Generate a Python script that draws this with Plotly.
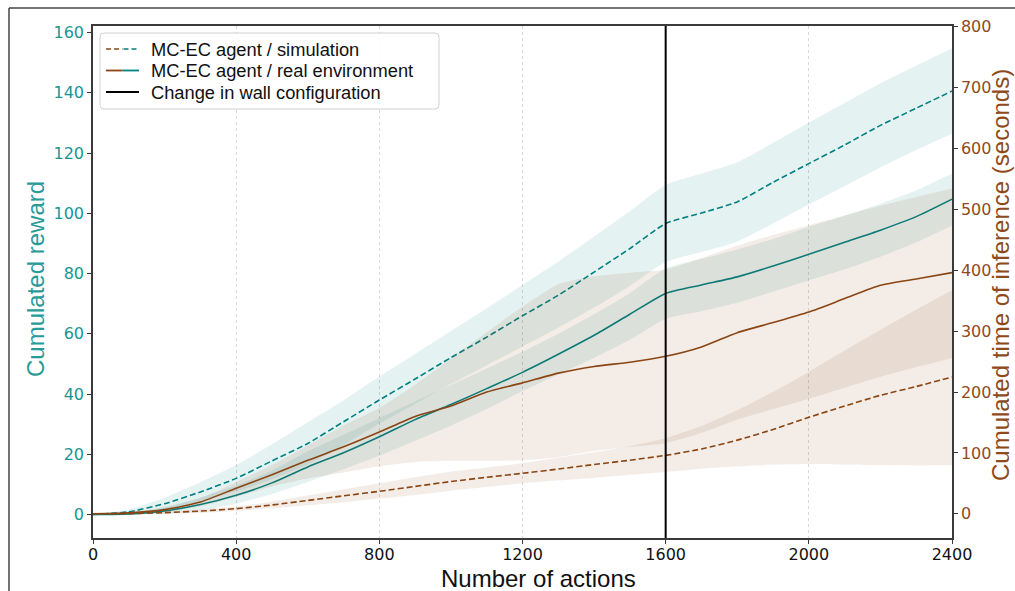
import plotly.graph_objects as go

# ---------------- data ----------------
actions = [0, 100, 200, 300, 400, 500, 600, 700, 800, 900, 1000, 1100, 1200,
           1300, 1400, 1500, 1600, 1700, 1800, 1900, 2000, 2100, 2200, 2300, 2400]

# cumulated reward (left axis)
reward_sim = [0, 0.9, 3.6, 7.5, 12.0, 17.8, 23.6, 30.8, 38.0, 45.0, 52.1, 58.9, 66.0,
              72.8, 80.5, 88.3, 96.6, 100.1, 103.8, 110.3, 116.5, 122.7, 129.2, 134.9, 140.6]
reward_sim_hi = [0, 1.7, 5.6, 10.7, 16.4, 23.3, 30.6, 37.9, 45.8, 53.3, 60.9, 68.5, 76.2,
                 84.0, 92.3, 100.7, 109.4, 113.2, 117.0, 123.4, 130.1, 136.6, 143.2, 149.0, 154.8]
reward_sim_lo = [0, 0.1, 1.6, 4.3, 7.6, 11.7, 16.6, 23.1, 30.2, 36.7, 43.3, 49.5, 55.8,
                 62.0, 68.7, 75.9, 83.8, 87.2, 90.6, 96.6, 102.9, 109.0, 115.2, 121.0, 126.4]

reward_real = [0, 0.2, 1.2, 3.3, 6.4, 10.5, 15.8, 20.5, 25.8, 31.5, 36.5, 41.8, 47.2,
               53.2, 59.5, 66.5, 73.4, 76.2, 78.9, 82.5, 86.4, 90.4, 94.4, 98.9, 104.7]
reward_real_hi = [0, 0.5, 2.6, 5.6, 9.6, 14.6, 21.0, 26.5, 32.0, 37.5, 43.0, 48.5, 54.0,
                  60.0, 66.5, 73.5, 81.7, 84.8, 88.0, 91.5, 95.5, 99.2, 103.2, 107.6, 113.2]
reward_real_lo = [0, 0, 0.2, 1.4, 3.6, 6.8, 10.8, 15.0, 19.5, 24.5, 29.5, 35.0, 41.0,
                  46.5, 52.0, 58.0, 65.0, 67.5, 70.3, 74.0, 77.7, 81.4, 85.6, 90.4, 96.0]

# cumulated time of inference in seconds (right axis)
time_sim = [0, 0.3, 2.0, 4.5, 8.5, 14.5, 22.0, 29.5, 37.0, 45.0, 53.0, 60.0, 66.5,
            73.5, 81.0, 88.0, 96.0, 106.5, 121.0, 138.5, 158.5, 177.0, 194.6, 209.0, 224.6]
time_sim_hi = [0, 0.6, 3.5, 7.5, 12.0, 20.0, 30.0, 40.0, 50.0, 60.0, 69.0, 76.0, 83.0,
               92.0, 101.0, 111.0, 124.0, 144.0, 170.0, 200.0, 233.0, 268.0, 302.0, 335.0, 367.0]
time_sim_lo = [0, 0, 0.5, 1.5, 5.0, 9.0, 14.0, 19.0, 25.0, 31.0, 38.0, 44.0, 50.0,
               55.0, 59.0, 64.0, 68.6, 74.0, 78.0, 81.0, 82.0, 81.0, 80.0, 79.5, 80.0]

time_real = [0, 1.5, 6.9, 19.4, 42.0, 64.0, 87.8, 110.0, 134.3, 160.0, 177.0, 200.0, 215.0,
             231.0, 242.0, 249.0, 258.6, 274.0, 297.5, 314.0, 331.4, 353.4, 375.2, 385.5, 396.0]
time_real_hi = [0, 2.5, 10.0, 26.0, 52.0, 80.0, 112.0, 145.0, 174.0, 212.0, 255.0, 298.0, 340.0,
                377.0, 390.0, 396.0, 401.0, 420.0, 440.0, 458.0, 474.0, 490.0, 506.0, 520.0, 534.0]
time_real_lo = [0, 0.5, 3.0, 12.0, 28.0, 45.0, 58.0, 68.0, 78.0, 85.0, 87.0, 87.0, 88.0,
                93.0, 103.0, 110.0, 116.0, 133.0, 155.0, 172.0, 189.0, 207.0, 225.0, 241.0, 256.0]

wall_change_action = 1600

x_ticks = [0, 400, 800, 1200, 1600, 2000, 2400]
reward_ticks = [0, 20, 40, 60, 80, 100, 120, 140, 160]
time_ticks = [0, 100, 200, 300, 400, 500, 600, 700, 800]

legend_labels = ["MC-EC agent / simulation", "MC-EC agent / real environment",
                 "Change in wall configuration"]

# ---------------- style ----------------
TEAL = "#008080"
BROWN = "#8B4513"
TEAL_TXT = "#1a9494"
BROWN_TXT = "#8f4a1c"
TEAL_FILL = "rgba(0,128,128,0.10)"
BROWN_FILL = "rgba(139,69,19,0.10)"
SPINE = "#3a3a3a"
DASH = "6px,3px"
TICK_SIZE = 16
TITLE_SIZE = 24

W, H = 1015, 591
ML, MR, MT, MB = 93, 63, 26, 53
PW, PH = W - ML - MR, H - MT - MB


def fx(p):
    return (p - ML) / PW


def fy(p):
    return (H - MB - p) / PH


fig = go.Figure()


def band(hi, lo, fill, yaxis):
    fig.add_trace(go.Scatter(x=actions, y=hi, mode="lines", yaxis=yaxis,
                             line=dict(width=0, shape="spline", smoothing=0.6),
                             showlegend=False, hoverinfo="skip"))
    fig.add_trace(go.Scatter(x=actions, y=lo, mode="lines", yaxis=yaxis,
                             line=dict(width=0, shape="spline", smoothing=0.6),
                             fill="tonexty", fillcolor=fill,
                             showlegend=False, hoverinfo="skip"))


# left axis: rewards
band(reward_sim_hi, reward_sim_lo, TEAL_FILL, "y")
band(reward_real_hi, reward_real_lo, TEAL_FILL, "y")
fig.add_trace(go.Scatter(x=actions, y=reward_sim, mode="lines", yaxis="y",
                         line=dict(color=TEAL, width=1.6, dash=DASH, shape="spline", smoothing=0.6),
                         showlegend=False))
fig.add_trace(go.Scatter(x=actions, y=reward_real, mode="lines", yaxis="y",
                         line=dict(color=TEAL, width=1.6, shape="spline", smoothing=0.6),
                         showlegend=False))

# right axis: time
band(time_real_hi, time_real_lo, BROWN_FILL, "y2")
band(time_sim_hi, time_sim_lo, BROWN_FILL, "y2")
fig.add_trace(go.Scatter(x=actions, y=time_sim, mode="lines", yaxis="y2",
                         line=dict(color=BROWN, width=1.6, dash=DASH, shape="spline", smoothing=0.6),
                         showlegend=False))
fig.add_trace(go.Scatter(x=actions, y=time_real, mode="lines", yaxis="y2",
                         line=dict(color=BROWN, width=1.6, shape="spline", smoothing=0.6),
                         showlegend=False))

shapes = []
# wall configuration change
shapes.append(dict(type="line", xref="x", yref="paper", x0=wall_change_action, x1=wall_change_action,
                   y0=0, y1=1, line=dict(color="black", width=2), layer="above"))

# outer frame (left and top edges of the figure image)
shapes.append(dict(type="line", xref="paper", yref="paper", x0=fx(9), x1=fx(9), y0=fy(8), y1=fy(H + 2),
                   line=dict(color="#444", width=1.5)))
shapes.append(dict(type="line", xref="paper", yref="paper", x0=fx(9), x1=fx(W + 2), y0=fy(8), y1=fy(8),
                   line=dict(color="#444", width=1.5)))

# custom legend box
bx0, bx1, by0, by1 = 100, 439, 33, 109
r = 4
path = (f"M {fx(bx0 + r)},{fy(by0)} L {fx(bx1 - r)},{fy(by0)} Q {fx(bx1)},{fy(by0)} {fx(bx1)},{fy(by0 + r)} "
        f"L {fx(bx1)},{fy(by1 - r)} Q {fx(bx1)},{fy(by1)} {fx(bx1 - r)},{fy(by1)} "
        f"L {fx(bx0 + r)},{fy(by1)} Q {fx(bx0)},{fy(by1)} {fx(bx0)},{fy(by1 - r)} "
        f"L {fx(bx0)},{fy(by0 + r)} Q {fx(bx0)},{fy(by0)} {fx(bx0 + r)},{fy(by0)} Z")
shapes.append(dict(type="path", xref="paper", yref="paper", path=path,
                   fillcolor="rgba(255,255,255,0.85)", line=dict(color="#d0d0d0", width=1), layer="above"))

rows = [49, 70.5, 92]
sx0, sxm, sx1 = 106, 122.5, 139
# row 1: dashed brown/teal
shapes.append(dict(type="line", xref="paper", yref="paper", x0=fx(sx0), x1=fx(sxm), y0=fy(rows[0]), y1=fy(rows[0]),
                   line=dict(color=BROWN, width=1.6, dash="5px,3px"), layer="above"))
shapes.append(dict(type="line", xref="paper", yref="paper", x0=fx(sxm + 1), x1=fx(sx1), y0=fy(rows[0]), y1=fy(rows[0]),
                   line=dict(color=TEAL, width=1.6, dash="5px,3px"), layer="above"))
# row 2: solid brown/teal
shapes.append(dict(type="line", xref="paper", yref="paper", x0=fx(sx0), x1=fx(sxm), y0=fy(rows[1]), y1=fy(rows[1]),
                   line=dict(color=BROWN, width=1.8), layer="above"))
shapes.append(dict(type="line", xref="paper", yref="paper", x0=fx(sxm), x1=fx(sx1), y0=fy(rows[1]), y1=fy(rows[1]),
                   line=dict(color=TEAL, width=1.8), layer="above"))
# row 3: black
shapes.append(dict(type="line", xref="paper", yref="paper", x0=fx(sx0), x1=fx(sx1), y0=fy(rows[2]), y1=fy(rows[2]),
                   line=dict(color="black", width=2.2), layer="above"))

annotations = []
for lab, ry in zip(legend_labels, rows):
    annotations.append(dict(text=lab, xref="paper", yref="paper", x=fx(149), y=fy(ry), xanchor="left",
                            yanchor="middle", showarrow=False,
                            font=dict(family="Liberation Sans, Arial", size=18.3, color="#111")))

# axis titles
annotations.append(dict(text="Number of actions", xref="paper", yref="paper", x=fx(538), y=fy(578),
                        xanchor="center", yanchor="middle", showarrow=False,
                        font=dict(family="Liberation Sans, Arial", size=TITLE_SIZE, color="#111")))
annotations.append(dict(text="Cumulated reward", xref="paper", yref="paper", x=fx(35), y=fy(279),
                        xanchor="center", yanchor="middle", showarrow=False, textangle=-90,
                        font=dict(family="Liberation Sans, Arial", size=TITLE_SIZE, color="#2a9a97")))
annotations.append(dict(text="Cumulated time of inference (seconds)", xref="paper", yref="paper",
                        x=fx(1000), y=fy(275), xanchor="center", yanchor="middle", showarrow=False,
                        textangle=-90,
                        font=dict(family="Liberation Sans, Arial", size=TITLE_SIZE, color=BROWN_TXT)))

fig.update_layout(
    width=W, height=H,
    margin=dict(l=ML, r=MR, t=MT, b=MB, pad=0),
    paper_bgcolor="white", plot_bgcolor="white",
    showlegend=False,
    xaxis=dict(range=[0, 2400], tickvals=x_ticks, ticktext=[str(v) for v in x_ticks],
               showgrid=True, gridcolor="#d9d9d9", griddash="dot", gridwidth=1,
               zeroline=False, showline=True, linecolor=SPINE, linewidth=1.5, mirror=True,
               ticks="outside", ticklen=4, tickcolor=SPINE, tickwidth=1.2, ticklabelstandoff=-3,
               tickfont=dict(family="DejaVu Sans", size=TICK_SIZE, color="#111")),
    yaxis=dict(range=[-7.8, 162.2], tickvals=reward_ticks, ticktext=[str(v) for v in reward_ticks],
               showgrid=False, zeroline=False, showline=True, linecolor=SPINE, linewidth=1.5,
               ticks="outside", ticklen=4, tickcolor=SPINE, tickwidth=1.2,
               tickfont=dict(family="DejaVu Sans", size=TICK_SIZE, color=TEAL_TXT)),
    yaxis2=dict(range=[-39.7, 801], tickvals=time_ticks, ticktext=[str(v) for v in time_ticks],
                overlaying="y", side="right", showgrid=False, zeroline=False,
                showline=True, linecolor=SPINE, linewidth=1.5,
                ticks="outside", ticklen=4, tickcolor=SPINE, tickwidth=1.2,
                tickfont=dict(family="DejaVu Sans", size=TICK_SIZE, color=BROWN_TXT)),
    shapes=shapes,
    annotations=annotations,
)

fig.write_html("out.html")
